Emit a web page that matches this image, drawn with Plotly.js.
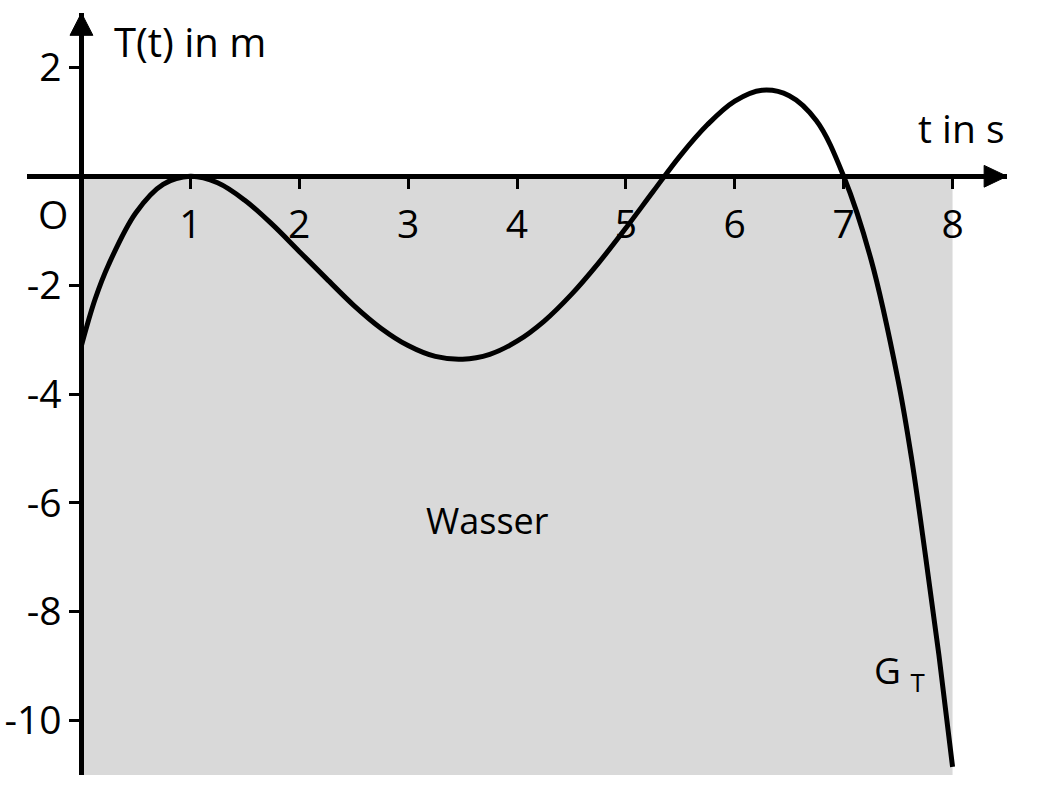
<!DOCTYPE html>
<html>
<head>
<meta charset="utf-8">
<script src="https://cdn.plot.ly/plotly-3.0.1.min.js"></script>
<style>html,body{margin:0;padding:0;background:#fff;}#chart{width:1038px;height:794px;}</style>
</head>
<body>
<div id="chart"></div>
<script>
// Curve G_T : time t (s) and depth T(t) (m)
const tValues = [0, 0.125, 0.25, 0.5, 0.75, 1, 1.25, 1.5, 1.75, 2, 2.25, 2.5, 2.75, 3, 3.25, 3.5, 3.75, 4, 4.25, 4.5, 4.75, 5, 5.25, 5.5, 5.75, 6, 6.25, 6.5, 6.75, 7, 7.25, 7.5, 7.625, 7.75, 7.875, 8];
const TValues = [-3.11, -2.26, -1.62, -0.67, -0.15, 0, -0.12, -0.44, -0.88, -1.38, -1.88, -2.37, -2.79, -3.11, -3.31, -3.36, -3.27, -3.03, -2.66, -2.17, -1.59, -0.95, -0.28, 0.38, 0.95, 1.38, 1.58, 1.48, 1.02, 0, -1.52, -3.75, -5.2, -6.95, -8.8, -10.85];

// Water region
const waterT = [0, 8];
const waterDepth = [-11, 0];

// Ticks
const xTickVals = [1, 2, 3, 4, 5, 6, 7, 8];
const xTickText = ["1", "2", "3", "4", "5", "6", "7", "8"];
const yTickVals = [2, -2, -4, -6, -8, -10];
const yTickText = ["2", "-2", "-4", "-6", "-8", "-10"];

const xRange = [-0.5, 8.5];
const yRange = [-11, 3];

const FONT = "Open Sans, Lato, sans-serif";
const FS = 39;
const xPos = (0 - yRange[0]) / (yRange[1] - yRange[0]);
const yPos = (0 - xRange[0]) / (xRange[1] - xRange[0]);

const trace = {
  x: tValues, y: TValues, type: "scatter", mode: "lines",
  line: {color: "#000", width: 5, shape: "spline", smoothing: 1},
  hoverinfo: "skip", showlegend: false
};

const baseX = {
  range: xRange, showgrid: false, zeroline: false, fixedrange: true,
  anchor: "free", position: xPos, tickvals: xTickVals,
  tickwidth: 3, ticklen: 10, tickcolor: "#000"
};
const baseY = {
  range: yRange, showgrid: false, zeroline: false, fixedrange: true,
  anchor: "free", position: yPos, tickvals: yTickVals,
  tickwidth: 3, ticklen: 10, tickcolor: "#000"
};

const layout = {
  width: 1038, height: 794,
  margin: {l: 27, r: 31, t: 13, b: 19},
  paper_bgcolor: "#fff", plot_bgcolor: "rgba(0,0,0,0)",
  showlegend: false,
  font: {family: FONT, color: "#000", size: FS},
  xaxis: Object.assign({}, baseX, {
    showline: true, linecolor: "#000", linewidth: 5,
    ticks: "outside", ticktext: xTickText, showticklabels: true,
    tickfont: {family: FONT, size: FS, color: "#000"}, ticklabelstandoff: 2
  }),
  xaxis2: Object.assign({}, baseX, {
    overlaying: "x", matches: "x", showline: false,
    ticks: "inside", showticklabels: false
  }),
  yaxis: Object.assign({}, baseY, {
    showline: true, linecolor: "#000", linewidth: 5,
    ticks: "outside", ticktext: yTickText, showticklabels: true,
    tickfont: {family: FONT, size: FS, color: "#000"}, ticklabelstandoff: 0
  }),
  yaxis2: Object.assign({}, baseY, {
    overlaying: "y", matches: "y", showline: false,
    ticks: "inside", showticklabels: false
  }),
  shapes: [
    {type: "rect", xref: "x", yref: "y", x0: waterT[0], x1: waterT[1], y0: waterDepth[0], y1: waterDepth[1],
     fillcolor: "#d9d9d9", line: {width: 0}, layer: "below"},
    {type: "path", xref: "x", yref: "y", path: "M 8.29,-0.2 L 8.5,0 L 8.29,0.2 Z",
     fillcolor: "#000", line: {color: "#000", width: 1}, layer: "above"},
    {type: "path", xref: "x", yref: "y", path: "M -0.105,2.59 L 0,3 L 0.105,2.59 Z",
     fillcolor: "#000", line: {color: "#000", width: 1}, layer: "above"}
  ],
  annotations: [
    {x: 0.28, y: 2.48, xref: "x", yref: "y", text: "T(t) in m", showarrow: false, xanchor: "left", yanchor: "middle",
     font: {family: FONT, size: FS + 1, color: "#000"}},
    {x: 8.5, y: 0.9, xref: "x", yref: "y", text: "t in s", showarrow: false, xanchor: "right", yanchor: "middle",
     font: {family: FONT, size: FS, color: "#000"}},
    {x: -0.26, y: -0.68, xref: "x", yref: "y", text: "O", showarrow: false, xanchor: "center", yanchor: "middle",
     font: {family: FONT, size: FS, color: "#000"}},
    {x: 3.73, y: -6.32, xref: "x", yref: "y", text: "Wasser", showarrow: false, xanchor: "center", yanchor: "middle",
     font: {family: FONT, size: 36, color: "#000"}},
    {x: 7.51, y: -9.1, xref: "x", yref: "y", text: "G <sub>T</sub>", showarrow: false, xanchor: "center", yanchor: "middle",
     font: {family: FONT, size: 37, color: "#000"}}
  ]
};

Plotly.newPlot("chart", [trace], layout, {displayModeBar: false, staticPlot: true});
</script>
</body>
</html>
